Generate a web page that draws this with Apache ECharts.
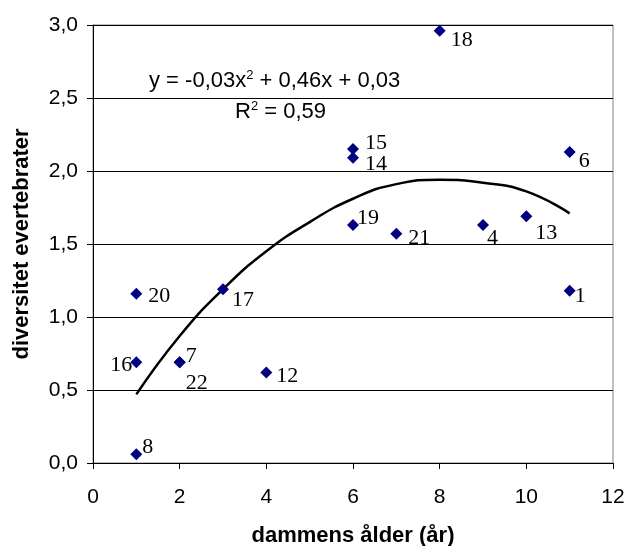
<!DOCTYPE html>
<html>
<head>
<meta charset="utf-8">
<script src="https://cdn.jsdelivr.net/npm/echarts@6/dist/echarts.min.js"></script>
<style>
  html, body { margin: 0; padding: 0; background: #fff; }
  #main { width: 626px; height: 546px; }
</style>
</head>
<body>
<div id="main"></div>
<script>
// pond ids, age of pond (years) and invertebrate diversity
const pondIds = ["1", "4", "6", "7", "8", "12", "13", "14", "15", "16", "17", "18", "19", "20", "21", "22"];
const ages = [11, 9, 11, 2, 1, 4, 10, 6, 6, 1, 3, 8, 6, 1, 7, 2];
const diversity = [1.18, 1.63, 2.13, 0.69, 0.06, 0.62, 1.69, 2.09, 2.15, 0.69, 1.19, 2.96, 1.63, 1.16, 1.57, 0.69];

// polynomial trendline as drawn in the picture
const trendX = [1, 2, 3, 4, 5, 6, 7, 8, 9, 10, 11];
const trendY = [0.47, 0.87, 1.19, 1.45, 1.65, 1.81, 1.91, 1.94, 1.92, 1.86, 1.71];

// where each id label sits relative to its marker: [dx, dy, align]
const labelPos = {
  "1": [5, 5], "4": [4, 13], "6": [9, 9], "7": [6, -6], "8": [6, -7],
  "12": [10, 4], "13": [9, 17], "14": [12, 6], "15": [12, -6], "16": [-4, 3, "right"],
  "17": [9, 11], "18": [11, 9], "19": [4, -7], "20": [12, 3], "21": [12, 4], "22": [6, 21]
};

const half = 6;
const points = ages.map(function (a, i) {
  const p = labelPos[pondIds[i]];
  return {
    value: [a, diversity[i]],
    label: {
      show: true,
      formatter: pondIds[i],
      position: [p[0] + half, p[1] + half],
      align: p[2] || "left",
      verticalAlign: "middle"
    }
  };
});

const sansFont = "'Liberation Sans', Arial, sans-serif";
const serifFont = "'Liberation Serif', 'Times New Roman', serif";

const chart = echarts.init(document.getElementById("main"), null, { renderer: "canvas" });
chart.setOption({
  animation: false,
  backgroundColor: "#fff",
  grid: {
    left: 93, right: 13, top: 25, bottom: 83,
    outerBoundsMode: "none",
    show: true, borderColor: "#808080", borderWidth: 1
  },
  xAxis: {
    type: "value",
    min: 0, max: 12, interval: 2,
    name: "dammens ålder (år)",
    nameLocation: "middle",
    nameGap: 62,
    nameTextStyle: { fontFamily: sansFont, fontWeight: "bold", fontSize: 22, color: "#000" },
    axisLine: { show: true, lineStyle: { color: "#000", width: 1 } },
    axisTick: { show: true, length: 6, lineStyle: { color: "#000" } },
    axisLabel: { fontFamily: sansFont, fontSize: 21, color: "#000", margin: 24 },
    splitLine: { show: false }
  },
  yAxis: {
    type: "value",
    min: 0, max: 3, interval: 0.5,
    name: "diversitet evertebrater",
    nameLocation: "middle",
    nameGap: 60,
    nameTextStyle: { fontFamily: sansFont, fontWeight: "bold", fontSize: 22, color: "#000" },
    axisLine: { show: true, lineStyle: { color: "#000", width: 1 } },
    axisTick: { show: true, length: 6, lineStyle: { color: "#000" } },
    axisLabel: {
      fontFamily: sansFont, fontSize: 21, color: "#000", margin: 15,
      formatter: function (v) { return v.toFixed(1).replace(".", ","); }
    },
    splitLine: { show: true, lineStyle: { color: "#000", width: 1 } }
  },
  series: [
    {
      type: "scatter",
      symbol: "diamond",
      symbolSize: [12, 12],
      itemStyle: { color: "#000080", opacity: 1 },
      label: { fontFamily: serifFont, fontSize: 22, color: "#000" },
      data: points,
      z: 3
    },
    {
      type: "line",
      smooth: true,
      symbol: "none",
      lineStyle: { color: "#000", width: 2.5 },
      data: trendX.map(function (x, i) { return [x, trendY[i]]; }),
      z: 2
    }
  ],
  graphic: [
    {
      type: "text", left: 149, top: 69,
      style: {
        text: "y = -0,03x{sup|2} + 0,46x + 0,03",
        fontFamily: sansFont, fontSize: 22, fill: "#000",
        rich: { sup: { fontFamily: sansFont, fontSize: 13, padding: [0, 0, 10, 0] } }
      }
    },
    {
      type: "text", left: 235, top: 100,
      style: {
        text: "R{sup|2} = 0,59",
        fontFamily: sansFont, fontSize: 22, fill: "#000",
        rich: { sup: { fontFamily: sansFont, fontSize: 13, padding: [0, 0, 10, 0] } }
      }
    }
  ]
});
window.onresize = function () { chart.resize(); };
</script>
</body>
</html>
